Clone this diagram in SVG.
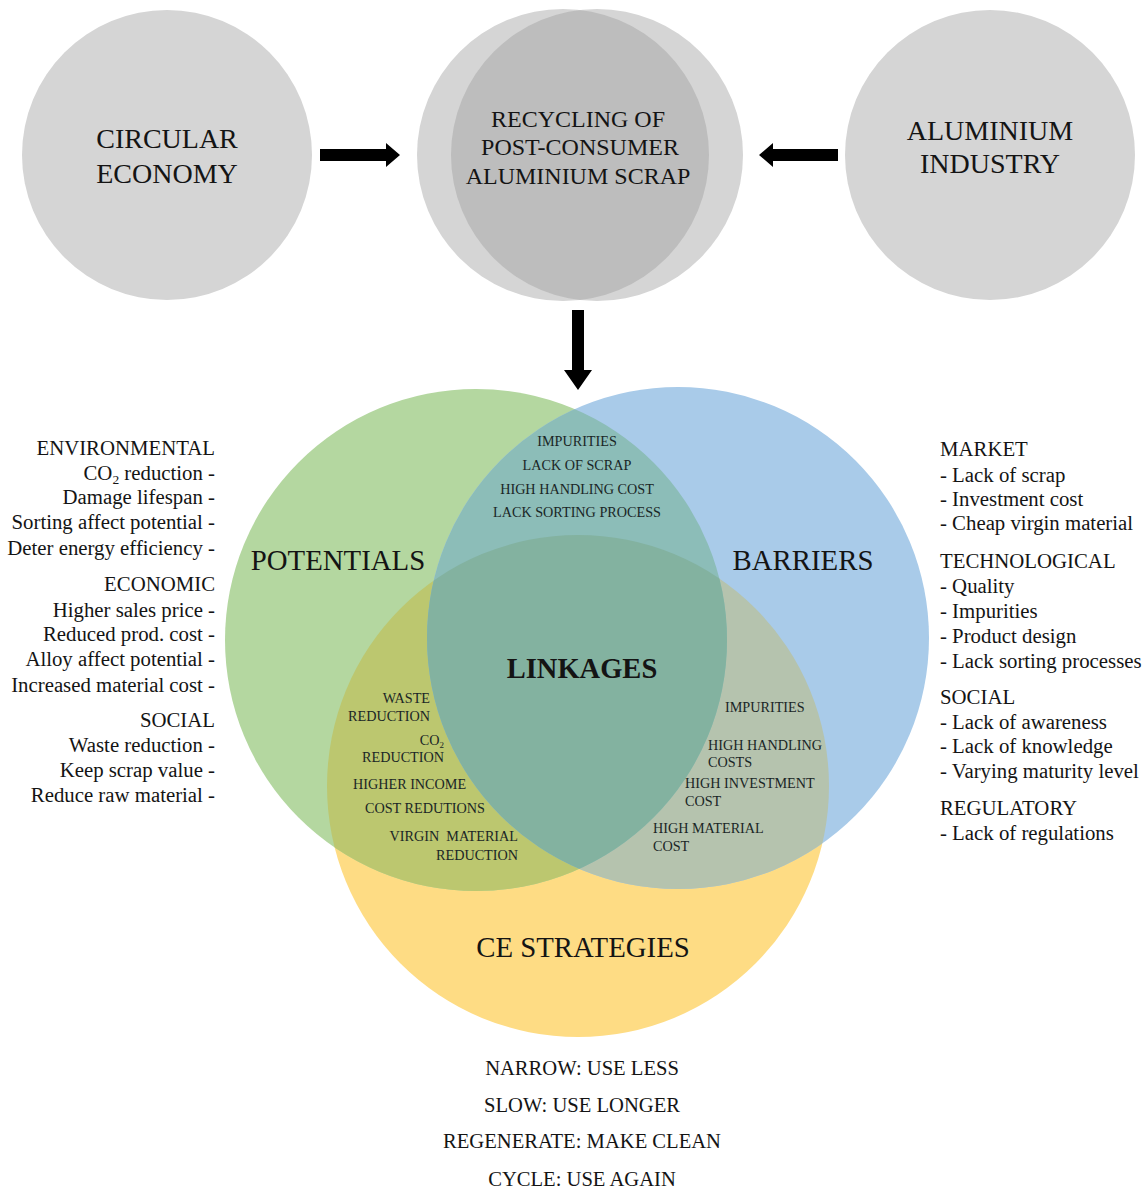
<svg xmlns="http://www.w3.org/2000/svg" xmlns:xlink="http://www.w3.org/1999/xlink" width="1145" height="1189" viewBox="0 0 1145 1189">
  <style>
    text { font-family: "Liberation Serif", "Times New Roman", serif; fill: #141414; }
    .top { font-size: 28px; text-anchor: middle; }
    .topmid { font-size: 24px; text-anchor: middle; }
    .set { font-size: 28.8px; text-anchor: middle; }
    .link { font-size: 28.5px; font-weight: bold; text-anchor: middle; }
    .inner { font-size: 14.2px; fill: #1a2626; }
    .mid { text-anchor: middle; }
    .end { text-anchor: end; }
    .pre { white-space: pre; }
    .list { font-size: 20.8px; }
    .strat { font-size: 20.6px; text-anchor: middle; }
    .grey { fill: #d5d5d5; }
    .lens { fill: #bdbdbd; }
    .arrow { fill: #000; }
  </style>
  <defs>
    <circle id="mA" cx="563" cy="155" r="146"/>
    <circle id="mB" cx="597" cy="155" r="146"/>
    <circle id="cG" cx="476" cy="640" r="251"/>
    <circle id="cB" cx="678" cy="638" r="251"/>
    <circle id="cY" cx="578" cy="786" r="251"/>
    <clipPath id="clipMA"><use xlink:href="#mA"/></clipPath>
    <clipPath id="clipG"><use xlink:href="#cG"/></clipPath>
    <clipPath id="clipB"><use xlink:href="#cB"/></clipPath>
  </defs>

  <!-- top row -->
  <g id="circular-economy">
    <circle class="grey" cx="167" cy="155" r="145"/>
    <text class="top" x="167" y="148">CIRCULAR</text>
    <text class="top" x="167" y="183">ECONOMY</text>
  </g>
  <g id="recycling">
    <use xlink:href="#mA" class="grey"/>
    <use xlink:href="#mB" class="grey"/>
    <use xlink:href="#mB" class="lens" clip-path="url(#clipMA)"/>
    <text class="topmid" x="578" y="127">RECYCLING OF</text>
    <text class="topmid" x="580" y="155">POST-CONSUMER</text>
    <text class="topmid" x="578" y="184">ALUMINIUM SCRAP</text>
  </g>
  <g id="aluminium-industry">
    <circle class="grey" cx="990" cy="155" r="145"/>
    <text class="top" x="990" y="140">ALUMINIUM</text>
    <text class="top" x="990" y="173">INDUSTRY</text>
  </g>

  <!-- Venn of potentials, barriers and strategies -->
  <g id="venn">
    <use xlink:href="#cY" fill="#fedc84"/>
    <use xlink:href="#cG" fill="#b4d7a0"/>
    <use xlink:href="#cB" fill="#a9cbe9"/>
    <use xlink:href="#cY" fill="#bcc76f" clip-path="url(#clipG)"/>
    <use xlink:href="#cY" fill="#b5c3ae" clip-path="url(#clipB)"/>
    <use xlink:href="#cB" fill="#8cbdb8" clip-path="url(#clipG)"/>
    <g clip-path="url(#clipB)">
      <use xlink:href="#cY" fill="#83b2a0" clip-path="url(#clipG)"/>
    </g>
  </g>

  <g id="potentials">
    <text class="set" x="338" y="570">POTENTIALS</text>
  </g>
  <g id="barriers">
    <text class="set" x="803" y="570">BARRIERS</text>
  </g>
  <g id="linkages">
    <text class="link" x="582" y="678">LINKAGES</text>
  </g>
  <g id="ce-strategies">
    <text class="set" x="583" y="957">CE STRATEGIES</text>
  </g>

  <g id="potentials-barriers">
    <text class="inner mid" x="577" y="446">IMPURITIES</text>
    <text class="inner mid" x="577" y="470">LACK OF SCRAP</text>
    <text class="inner mid" x="577" y="494">HIGH HANDLING COST</text>
    <text class="inner mid" x="577" y="517">LACK SORTING PROCESS</text>
  </g>
  <g id="potentials-strategies">
    <text class="inner end" x="430" y="703">WASTE</text>
    <text class="inner end" x="430" y="721">REDUCTION</text>
    <text class="inner end" x="444" y="745">CO<tspan font-size="9" dy="3">2</tspan></text>
    <text class="inner end" x="444" y="762">REDUCTION</text>
    <text class="inner" x="353" y="789">HIGHER INCOME</text>
    <text class="inner" x="365" y="813">COST REDUTIONS</text>
    <text class="inner end pre" x="518" y="841">VIRGIN  MATERIAL</text>
    <text class="inner end" x="518" y="860">REDUCTION</text>
  </g>
  <g id="barriers-strategies">
    <text class="inner" x="725" y="712">IMPURITIES</text>
    <text class="inner" x="708" y="750">HIGH HANDLING</text>
    <text class="inner" x="708" y="767">COSTS</text>
    <text class="inner" x="685" y="788">HIGH INVESTMENT</text>
    <text class="inner" x="685" y="806">COST</text>
    <text class="inner" x="653" y="833">HIGH MATERIAL</text>
    <text class="inner" x="653" y="851">COST</text>
  </g>

  <!-- side lists -->
  <g id="potentials-list">
    <text class="list end" x="215" y="455">ENVIRONMENTAL</text>
    <text class="list end" x="215" y="480">CO<tspan font-size="13.5" dy="4">2</tspan><tspan dy="-4"> reduction -</tspan></text>
    <text class="list end" x="215" y="504">Damage lifespan -</text>
    <text class="list end" x="215" y="529">Sorting affect potential -</text>
    <text class="list end" x="215" y="555">Deter energy efficiency -</text>
    <text class="list end" x="215" y="591">ECONOMIC</text>
    <text class="list end" x="215" y="617">Higher sales price -</text>
    <text class="list end" x="215" y="641">Reduced prod. cost -</text>
    <text class="list end" x="215" y="666">Alloy affect potential -</text>
    <text class="list end" x="215" y="692">Increased material cost -</text>
    <text class="list end" x="215" y="727">SOCIAL</text>
    <text class="list end" x="215" y="752">Waste reduction -</text>
    <text class="list end" x="215" y="777">Keep scrap value -</text>
    <text class="list end" x="215" y="802">Reduce raw material -</text>
  </g>
  <g id="barriers-list">
    <text class="list" x="940" y="456">MARKET</text>
    <text class="list" x="940" y="482">- Lack of scrap</text>
    <text class="list" x="940" y="506">- Investment cost</text>
    <text class="list" x="940" y="530">- Cheap virgin material</text>
    <text class="list" x="940" y="568">TECHNOLOGICAL</text>
    <text class="list" x="940" y="593">- Quality</text>
    <text class="list" x="940" y="618">- Impurities</text>
    <text class="list" x="940" y="643">- Product design</text>
    <text class="list" x="940" y="668">- Lack sorting processes</text>
    <text class="list" x="940" y="704">SOCIAL</text>
    <text class="list" x="940" y="729">- Lack of awareness</text>
    <text class="list" x="940" y="753">- Lack of knowledge</text>
    <text class="list" x="940" y="778">- Varying maturity level</text>
    <text class="list" x="940" y="815">REGULATORY</text>
    <text class="list" x="940" y="840">- Lack of regulations</text>
  </g>
  <g id="strategies-list">
    <text class="strat" x="582" y="1075">NARROW: USE LESS</text>
    <text class="strat" x="582" y="1112">SLOW: USE LONGER</text>
    <text class="strat" x="582" y="1148">REGENERATE: MAKE CLEAN</text>
    <text class="strat" x="582" y="1186">CYCLE: USE AGAIN</text>
  </g>

  <!-- connectors -->
  <g id="connectors">
    <polygon class="arrow" points="320,149 386,149 386,143 400,155 386,167 386,161 320,161"/>
    <polygon class="arrow" points="838,149 773,149 773,143 759,155 773,167 773,161 838,161"/>
    <polygon class="arrow" points="572,310 584,310 584,370 592,370 578,390 564,370 572,370"/>
  </g>
</svg>
